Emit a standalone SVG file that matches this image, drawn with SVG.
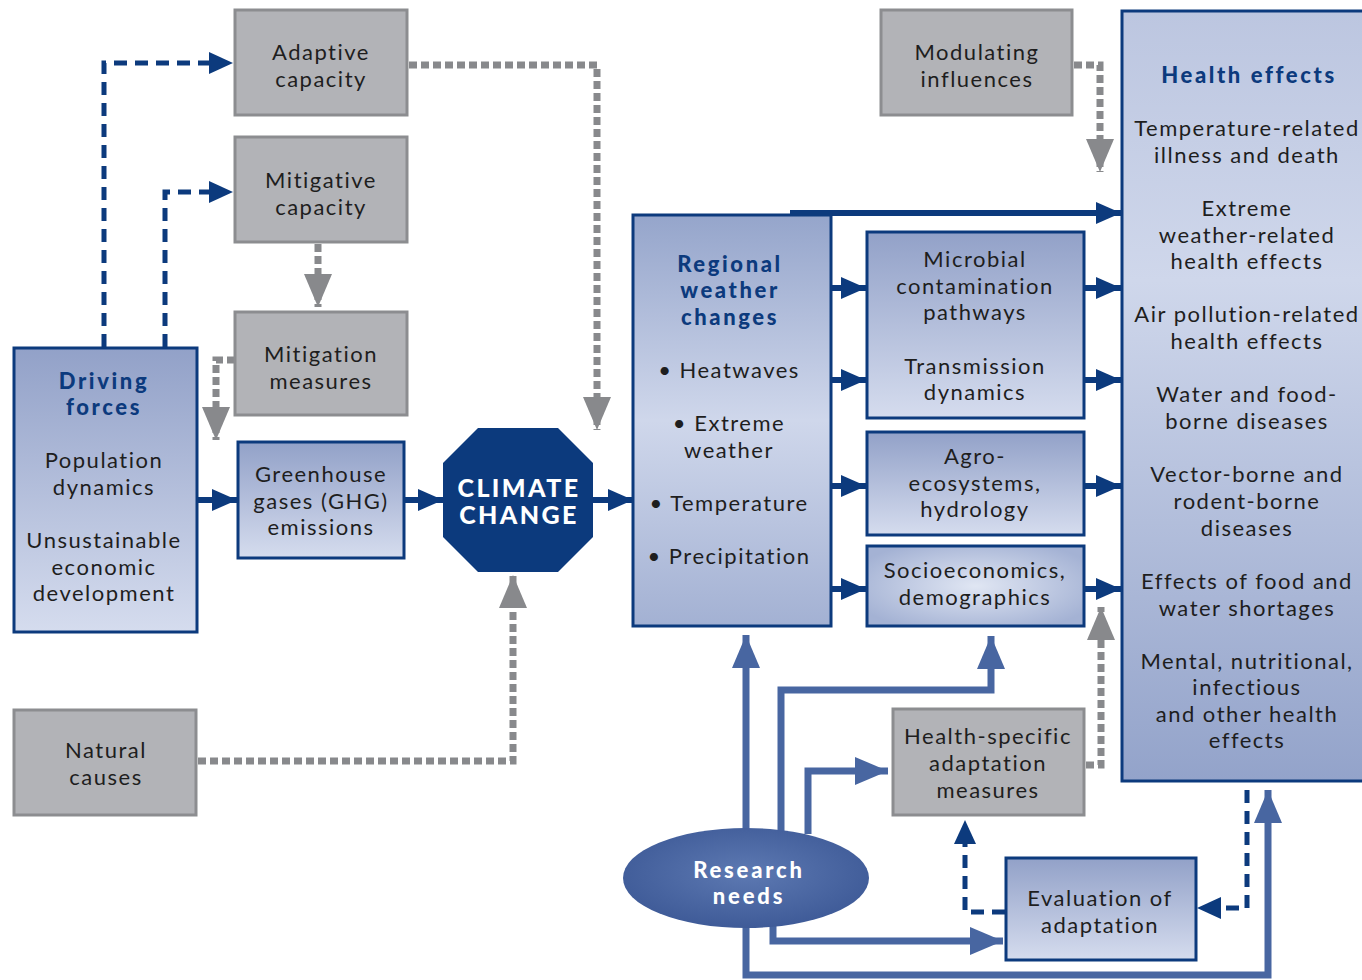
<svg xmlns="http://www.w3.org/2000/svg" width="1362" height="980" viewBox="0 0 1362 980">
<defs>
  <linearGradient id="gV" x1="0" y1="0" x2="0" y2="1">
    <stop offset="0" stop-color="#92a1c8"/>
    <stop offset="1" stop-color="#d5dcee"/>
  </linearGradient>
  <linearGradient id="gReg" x1="0" y1="0" x2="0" y2="1">
    <stop offset="0" stop-color="#95a5cb"/>
    <stop offset="0.5" stop-color="#cfd7eb"/>
    <stop offset="1" stop-color="#a3b1d3"/>
  </linearGradient>
  <linearGradient id="gHealth" x1="0" y1="0" x2="0" y2="1">
    <stop offset="0" stop-color="#bcc6e0"/>
    <stop offset="0.35" stop-color="#cfd7eb"/>
    <stop offset="1" stop-color="#93a3ca"/>
  </linearGradient>
  <radialGradient id="gSocio" cx="0.5" cy="0.5" r="0.6">
    <stop offset="0" stop-color="#e0e6f3"/>
    <stop offset="1" stop-color="#a4b2d4"/>
  </radialGradient>
  <radialGradient id="gRes" cx="0.5" cy="0.45" r="0.55">
    <stop offset="0" stop-color="#5d79b2"/>
    <stop offset="1" stop-color="#3f5b98"/>
  </radialGradient>
  <marker id="aN" markerUnits="userSpaceOnUse" markerWidth="26" markerHeight="24" refX="25" refY="11" orient="auto">
    <path d="M0,0 L25,11 L0,22 z" fill="#0c3a7d"/>
  </marker>
  <marker id="aG" markerUnits="userSpaceOnUse" markerWidth="34" markerHeight="30" refX="33" refY="14" orient="auto">
    <path d="M0,0 L33,14 L0,28 z" fill="#88898c"/>
  </marker>
  <marker id="aB" markerUnits="userSpaceOnUse" markerWidth="34" markerHeight="30" refX="33" refY="14" orient="auto">
    <path d="M0,0 L33,14 L0,28 z" fill="#4866a1"/>
  </marker>
  <style>
    .gray { fill: #b2b3b7; stroke: #8c8d90; stroke-width: 3; }
    .blue { stroke: #0c3a7d; stroke-width: 3; }
    .t { font-family: Lato, "Open Sans", sans-serif; font-size: 22px; letter-spacing: 1.5px; fill: #1e1e1e; text-anchor: middle; }
    .h { font-family: Lato, "Open Sans", sans-serif; font-size: 22px; letter-spacing: 2.6px; font-weight: 900; fill: #0c3a7d; text-anchor: middle; }
    .w { font-family: Lato, "Open Sans", sans-serif; font-size: 22px; letter-spacing: 2.8px; font-weight: 900; fill: #ffffff; text-anchor: middle; }
    .c { font-family: Lato, "Open Sans", sans-serif; font-size: 25px; letter-spacing: 2.4px; font-weight: 900; fill: #ffffff; text-anchor: middle; }
    .sn { fill: none; stroke: #0c3a7d; stroke-width: 6; }
    .dn { fill: none; stroke: #0c3a7d; stroke-width: 5; stroke-dasharray: 13 8; }
    .dg { fill: none; stroke: #88898c; stroke-width: 7; stroke-dasharray: 8 4; }
    .sb { fill: none; stroke: #4866a1; stroke-width: 7; }
  </style>
</defs>
<rect width="1362" height="980" fill="#ffffff"/>

<g id="connectors">
  <path class="dn" d="M104,347 V63 H210" />
  <path d="M209,52 L233,63 L209,74 z" fill="#0c3a7d"/>
  <path class="dn" d="M165,347 V192 H210" />
  <path d="M209,181 L233,192 L209,203 z" fill="#0c3a7d"/>
  <path class="dg" d="M409,65 H597 V430" marker-end="url(#aG)"/>
  <path class="dg" d="M318,244 V307" marker-end="url(#aG)"/>
  <path class="dg" d="M235,360 H216 V440" marker-end="url(#aG)"/>
  <path class="dg" d="M198,761 H513 V575" marker-end="url(#aG)"/>
  <path class="dg" d="M1074,65 H1100 V172" marker-end="url(#aG)"/>
  <path class="dg" d="M1086,765 H1101 V607" marker-end="url(#aG)"/>
  <path class="sn" d="M198,500 H237" marker-end="url(#aN)"/>
  <path class="sn" d="M405,500 H443" marker-end="url(#aN)"/>
  <path class="sn" d="M593,500 H633" marker-end="url(#aN)"/>
  <path class="sn" d="M790,213 H1121" marker-end="url(#aN)"/>
  <path class="sn" d="M832,288 H866" marker-end="url(#aN)"/>
  <path class="sn" d="M832,380 H866" marker-end="url(#aN)"/>
  <path class="sn" d="M832,486 H866" marker-end="url(#aN)"/>
  <path class="sn" d="M832,589 H866" marker-end="url(#aN)"/>
  <path class="sn" d="M1085,288 H1121" marker-end="url(#aN)"/>
  <path class="sn" d="M1085,380 H1121" marker-end="url(#aN)"/>
  <path class="sn" d="M1085,486 H1121" marker-end="url(#aN)"/>
  <path class="sn" d="M1085,589 H1121" marker-end="url(#aN)"/>
  <path class="sb" d="M746,832 V635" marker-end="url(#aB)"/>
  <path class="sb" d="M781,832 V690 H991 V636" marker-end="url(#aB)"/>
  <path class="sb" d="M808,834 V771 H888" marker-end="url(#aB)"/>
  <path class="sb" d="M773,925 V941 H1003" marker-end="url(#aB)"/>
  <path class="sb" d="M746,925 V975 H1268 V790" marker-end="url(#aB)"/>
  <path class="dn" d="M1005,912 H965 V843" />
  <path d="M954,844 L965,820 L976,844 z" fill="#0c3a7d"/>
  <path class="dn" d="M1247,790 V908 H1220" />
  <path d="M1221,897 L1197,908 L1221,919 z" fill="#0c3a7d"/>
</g>

<g id="adaptive-capacity">
  <rect class="gray" x="235" y="10" width="172" height="105"/>
  <text class="t" x="321" y="60">Adaptive</text>
  <text class="t" x="321" y="87">capacity</text>
</g>
<g id="mitigative-capacity">
  <rect class="gray" x="235" y="137" width="172" height="105"/>
  <text class="t" x="321" y="188">Mitigative</text>
  <text class="t" x="321" y="215">capacity</text>
</g>
<g id="mitigation-measures">
  <rect class="gray" x="235" y="312" width="172" height="103"/>
  <text class="t" x="321" y="362">Mitigation</text>
  <text class="t" x="321" y="389">measures</text>
</g>
<g id="driving-forces">
  <rect class="blue" fill="url(#gV)" x="14" y="348" width="183" height="284"/>
  <text class="h" x="104" y="389">Driving</text>
  <text class="h" x="104" y="415">forces</text>
  <text class="t" x="104" y="468">Population</text>
  <text class="t" x="104" y="495">dynamics</text>
  <text class="t" x="104" y="548">Unsustainable</text>
  <text class="t" x="104" y="575">economic</text>
  <text class="t" x="104" y="601">development</text>
</g>
<g id="ghg-emissions">
  <rect class="blue" fill="url(#gV)" x="238" y="442" width="166" height="116"/>
  <text class="t" x="321" y="482">Greenhouse</text>
  <text class="t" x="321" y="509">gases (GHG)</text>
  <text class="t" x="321" y="535">emissions</text>
</g>
<g id="climate-change">
  <polygon points="478,428 558,428 593,463 593,537 558,572 478,572 443,537 443,463" fill="#0c3a7d"/>
  <text class="c" x="519" y="497">CLIMATE</text>
  <text class="c" x="519" y="524">CHANGE</text>
</g>
<g id="natural-causes">
  <rect class="gray" x="14" y="710" width="182" height="105"/>
  <text class="t" x="106" y="758">Natural</text>
  <text class="t" x="106" y="785">causes</text>
</g>
<g id="regional-weather">
  <rect class="blue" fill="url(#gReg)" x="633" y="215" width="198" height="411"/>
  <text class="h" x="730" y="272">Regional</text>
  <text class="h" x="730" y="298">weather</text>
  <text class="h" x="730" y="325">changes</text>
  <text class="t" x="729" y="378">• Heatwaves</text>
  <text class="t" x="729" y="431">• Extreme</text>
  <text class="t" x="729" y="458">weather</text>
  <text class="t" x="729" y="511">• Temperature</text>
  <text class="t" x="729" y="564">• Precipitation</text>
</g>
<g id="microbial-transmission">
  <rect class="blue" fill="url(#gV)" x="867" y="232" width="217" height="186"/>
  <text class="t" x="975" y="267">Microbial</text>
  <text class="t" x="975" y="294">contamination</text>
  <text class="t" x="975" y="320">pathways</text>
  <text class="t" x="975" y="374">Transmission</text>
  <text class="t" x="975" y="400">dynamics</text>
</g>
<g id="agro-ecosystems">
  <rect class="blue" fill="url(#gV)" x="867" y="432" width="217" height="103"/>
  <text class="t" x="975" y="464">Agro-</text>
  <text class="t" x="975" y="491">ecosystems,</text>
  <text class="t" x="975" y="517">hydrology</text>
</g>
<g id="socioeconomics">
  <rect class="blue" fill="url(#gSocio)" x="867" y="546" width="217" height="80"/>
  <text class="t" x="975" y="578">Socioeconomics,</text>
  <text class="t" x="975" y="605">demographics</text>
</g>
<g id="modulating-influences">
  <rect class="gray" x="881" y="10" width="191" height="105"/>
  <text class="t" x="977" y="60">Modulating</text>
  <text class="t" x="977" y="87">influences</text>
</g>
<g id="health-effects">
  <rect class="blue" fill="url(#gHealth)" x="1122" y="11" width="260" height="770"/>
  <text class="h" x="1249" y="83">Health effects</text>
  <text class="t" x="1247" y="136">Temperature-related</text>
  <text class="t" x="1247" y="163">illness and death</text>
  <text class="t" x="1247" y="216">Extreme</text>
  <text class="t" x="1247" y="243">weather-related</text>
  <text class="t" x="1247" y="269">health effects</text>
  <text class="t" x="1247" y="322">Air pollution-related</text>
  <text class="t" x="1247" y="349">health effects</text>
  <text class="t" x="1247" y="402">Water and food-</text>
  <text class="t" x="1247" y="429">borne diseases</text>
  <text class="t" x="1247" y="482">Vector-borne and</text>
  <text class="t" x="1247" y="509">rodent-borne</text>
  <text class="t" x="1247" y="536">diseases</text>
  <text class="t" x="1247" y="589">Effects of food and</text>
  <text class="t" x="1247" y="616">water shortages</text>
  <text class="t" x="1247" y="669">Mental, nutritional,</text>
  <text class="t" x="1247" y="695">infectious</text>
  <text class="t" x="1247" y="722">and other health</text>
  <text class="t" x="1247" y="748">effects</text>
</g>
<g id="health-specific-adaptation">
  <rect class="gray" x="893" y="709" width="191" height="106"/>
  <text class="t" x="988" y="744">Health-specific</text>
  <text class="t" x="988" y="771">adaptation</text>
  <text class="t" x="988" y="798">measures</text>
</g>
<g id="evaluation-of-adaptation">
  <rect class="blue" fill="url(#gV)" x="1006" y="858" width="190" height="102"/>
  <text class="t" x="1100" y="906">Evaluation of</text>
  <text class="t" x="1100" y="933">adaptation</text>
</g>
<g id="research-needs">
  <ellipse cx="746" cy="878" rx="123" ry="50" fill="url(#gRes)"/>
  <text class="w" x="749" y="878">Research</text>
  <text class="w" x="749" y="904">needs</text>
</g>
</svg>
